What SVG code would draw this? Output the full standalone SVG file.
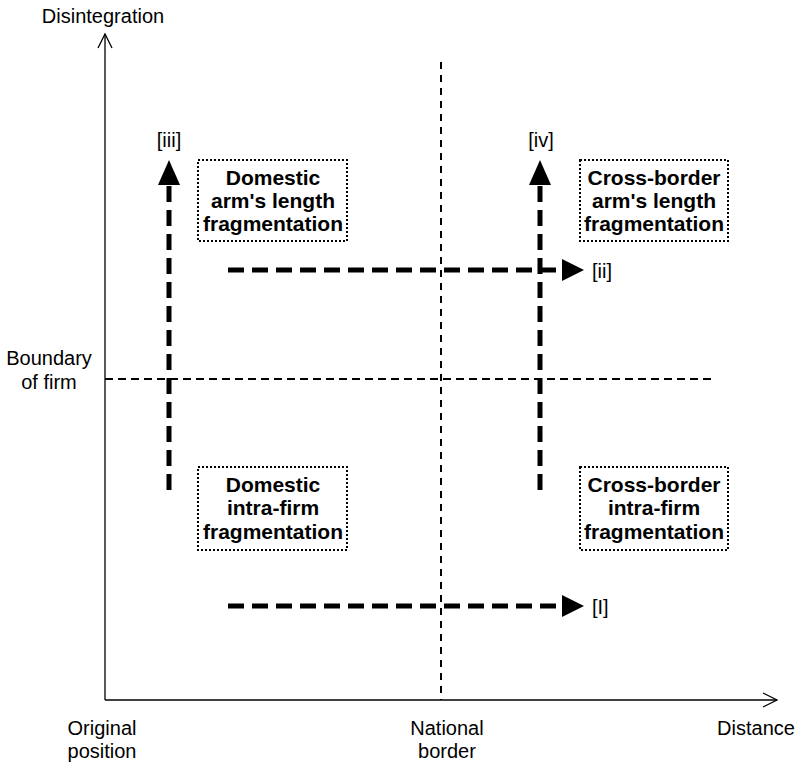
<svg xmlns="http://www.w3.org/2000/svg" width="799" height="765" viewBox="0 0 799 765">
  <style>
    .lbl { font-family: "Liberation Sans", Arial, sans-serif; font-size: 20px; fill: #000; }
    .box-t { font-family: "Liberation Sans", Arial, sans-serif; font-size: 21px; font-weight: bold; fill: #000; text-anchor: middle; }
    .box { fill: #fff; stroke: #000; stroke-width: 2; stroke-dasharray: 2 2; }
    .axis { stroke: #000; stroke-width: 1.3; fill: none; }
    .thick { stroke: #000; stroke-width: 5; stroke-dasharray: 16 8; fill: none; }
    .head { fill: #000; }
  </style>

  <!-- axes -->
  <g id="axes">
    <line class="axis" x1="105" y1="700" x2="105" y2="34"/>
    <polyline class="axis" points="98,48 105,34 112,48"/>
    <line class="axis" x1="105" y1="700" x2="777" y2="700"/>
    <polyline class="axis" points="763,693 777,700 763,707"/>
  </g>

  <!-- reference lines: national border and firm boundary -->
  <g id="guides">
    <line x1="441" y1="62" x2="441" y2="700" stroke="#000" stroke-width="2" stroke-dasharray="7 6"/>
    <line x1="105" y1="379" x2="716" y2="379" stroke="#000" stroke-width="2" stroke-dasharray="8 5"/>
  </g>

  <!-- axis labels -->
  <g id="labels">
    <text class="lbl" x="103" y="23" text-anchor="middle">Disintegration</text>
    <text class="lbl" x="49" y="365" text-anchor="middle">Boundary</text>
    <text class="lbl" x="49" y="389" text-anchor="middle">of firm</text>
    <text class="lbl" x="102" y="735" text-anchor="middle">Original</text>
    <text class="lbl" x="102" y="758" text-anchor="middle">position</text>
    <text class="lbl" x="447" y="735" text-anchor="middle">National</text>
    <text class="lbl" x="447" y="758" text-anchor="middle">border</text>
    <text class="lbl" x="756" y="735" text-anchor="middle">Distance</text>
  </g>

  <!-- connectors -->
  <g id="connectors">
    <line class="thick" x1="169" y1="490" x2="169" y2="186"/>
    <polygon class="head" points="158,185 180,185 169,160"/>
    <text class="lbl" x="169" y="147" text-anchor="middle">[iii]</text>

    <line class="thick" x1="540" y1="490" x2="540" y2="186"/>
    <polygon class="head" points="529,185 551,185 540,160"/>
    <text class="lbl" x="541" y="147" text-anchor="middle">[iv]</text>

    <line class="thick" x1="228" y1="270" x2="560" y2="270"/>
    <polygon class="head" points="562,259 562,281 584,270"/>
    <text class="lbl" x="592" y="278">[ii]</text>

    <line class="thick" x1="228" y1="606" x2="560" y2="606"/>
    <polygon class="head" points="562,595 562,617 584,606"/>
    <text class="lbl" x="592" y="614">[I]</text>
  </g>

  <!-- quadrant boxes -->
  <g id="domestic-arms-length">
    <rect class="box" x="198" y="160" width="149" height="81"/>
    <text class="box-t" x="273" y="185">Domestic</text>
    <text class="box-t" x="273" y="208">arm's length</text>
    <text class="box-t" x="273" y="231">fragmentation</text>
  </g>
  <g id="crossborder-arms-length">
    <rect class="box" x="580" y="160" width="148" height="81"/>
    <text class="box-t" x="654" y="185">Cross-border</text>
    <text class="box-t" x="654" y="208">arm's length</text>
    <text class="box-t" x="654" y="231">fragmentation</text>
  </g>
  <g id="domestic-intra-firm">
    <rect class="box" x="198" y="467" width="149" height="83"/>
    <text class="box-t" x="273" y="492">Domestic</text>
    <text class="box-t" x="273" y="515">intra-firm</text>
    <text class="box-t" x="273" y="539">fragmentation</text>
  </g>
  <g id="crossborder-intra-firm">
    <rect class="box" x="580" y="467" width="148" height="83"/>
    <text class="box-t" x="654" y="492">Cross-border</text>
    <text class="box-t" x="654" y="515">intra-firm</text>
    <text class="box-t" x="654" y="539">fragmentation</text>
  </g>
</svg>
